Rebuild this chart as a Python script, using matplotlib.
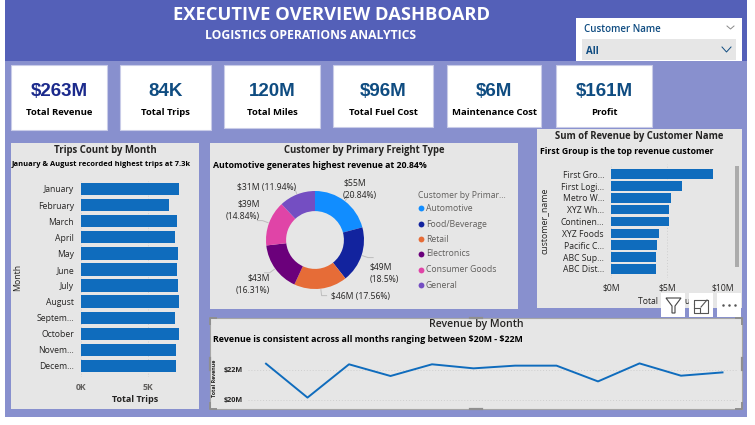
import numpy as np
import matplotlib
matplotlib.use("Agg")
import matplotlib.pyplot as plt
from matplotlib.patches import Rectangle, Polygon

plt.rcParams['font.family'] = ['Open Sans', 'DejaVu Sans']

W, H = 755, 425
DPI = 100

# KPI cards
kpi_values = ["$263M", "84K", "120M", "$96M", "$6M", "$161M"]
kpi_labels = ["Total Revenue", "Total Trips", "Total Miles", "Total Fuel Cost", "Maintenance Cost", "Profit"]

# Trips per month (thousands)
months = ["January", "February", "March", "April", "May", "June", "July", "August",
          "Septem...", "October", "Novem...", "Decem..."]
trips = [7.30, 6.58, 7.18, 7.00, 7.20, 7.13, 7.23, 7.28, 6.98, 7.33, 7.08, 7.05]

# Revenue per freight type
freight_types = ["Automotive", "Food/Beverage", "Retail", "Electronics", "Consumer Goods", "General"]
freight_share = [20.84, 18.5, 17.56, 16.31, 14.84, 11.94]
freight_labels = ["$55M\n(20.84%)", "$49M\n(18.5%)", "$46M (17.56%)", "$43M\n(16.31%)", "$39M\n(14.84%)", "$31M (11.94%)"]
freight_colors = ["#118DFF", "#12239E", "#E66C37", "#6B007B", "#E044A7", "#744EC2"]

# Revenue per customer ($M)
customers = ["First Gro...", "First Logi...", "Metro W...", "XYZ Wh...", "Continen...", "XYZ Foods",
             "Pacific C...", "ABC Sup...", "ABC Dist..."]
customer_rev = [9.1, 6.3, 5.35, 5.2, 5.15, 4.25, 4.1, 4.05, 4.0]

# Revenue per month ($M)
revenue = [22.42, 20.16, 22.38, 21.6, 22.38, 22.11, 22.29, 22.29, 21.24, 22.44, 21.62, 21.84]

HEADER = "#5460B8"
BODY = "#8890CE"
PANEL = "#E6E6E6"
BAR = "#0F6CBD"
INK = "#252423"
GREY = "#605E5C"
NAVY = "#0F4C81"

fig = plt.figure(figsize=(W / DPI, H / DPI), dpi=DPI, facecolor="white")


def px_axes(left, top, right, bottom, z=2):
    # axes placed with pixel edges, measured from the top left corner
    return fig.add_axes([left / W, 1 - bottom / H, (right - left) / W, (bottom - top) / H], zorder=z)


def overlay(z):
    ax = px_axes(0, 0, W, H, z)
    ax.set_xlim(0, W)
    ax.set_ylim(H, 0)
    ax.axis("off")
    ax.patch.set_alpha(0)
    return ax


def box(ax, x0, y0, x1, y1, color, **kw):
    ax.add_patch(Rectangle((x0, y0), x1 - x0, y1 - y0, facecolor=color, edgecolor=kw.pop("edge", "none"),
                           linewidth=kw.pop("lw", 0), **kw))


bg = overlay(0)
top = overlay(5)

# page background
box(bg, 5, 0, 747, 417, BODY)
box(bg, 5, 0, 747, 61, HEADER)

bg.text(332, 15, "EXECUTIVE OVERVIEW DASHBOARD", color="white", fontsize=13.2, fontweight="bold", ha="center", va="center")
bg.text(311, 35, "LOGISTICS OPERATIONS ANALYTICS", color="white", fontsize=8.7, fontweight="bold", ha="center", va="center")

# customer slicer
box(bg, 576, 18, 742, 61, "white")
box(bg, 582, 39, 736, 60, "#E6E6E6")
bg.text(584, 29, "Customer Name", color=NAVY, fontsize=7, fontweight="semibold", va="center")
bg.text(586, 51, "All", color=NAVY, fontsize=7, fontweight="bold", va="center")
bg.plot([727, 730.5, 734], [26, 29, 26], color="#8A8A8A", lw=0.7)
bg.plot([722, 726.5, 731], [47, 52, 47], color=NAVY, lw=0.7)

# KPI cards
card_edges = [(11, 107, 130), (120, 211, 130), (224, 320, 128), (333, 433, 127), (447, 541, 127), (556, 652, 127)]
for (x0, x1, y1), val, lab in zip(card_edges, kpi_values, kpi_labels):
    box(bg, x0, 65, x1, y1, "white", edge="#C9CCE8", lw=0.8)
    xc = (x0 + x1) / 2
    val_color = "#1B2A8C" if val == "$263M" else NAVY
    bg.text(xc, 91, val, color=val_color, fontsize=13.5, fontweight="bold", family="Liberation Sans", ha="center", va="center")
    bg.text(xc, 112, lab, color="black", fontsize=6.8, fontweight="bold", ha="center", va="center")

# chart panels
box(bg, 11, 143, 199, 409, PANEL)
box(bg, 210, 143, 518, 309, PANEL)
box(bg, 537, 129, 742, 308, PANEL)
box(bg, 210, 318, 742, 409, PANEL, edge="#A6A6A6", lw=0.8)


def style_bar_axes(ax):
    ax.patch.set_alpha(0)
    for s in ax.spines.values():
        s.set_visible(False)
    ax.tick_params(length=0)
    ax.grid(axis="x", color="#CFCFCF", linestyle=(0, (1, 2)), linewidth=0.7)
    ax.set_axisbelow(True)


# trips count by month
bg.text(105, 151, "Trips Count by Month", color=INK, fontsize=6.9, fontweight="bold", ha="center", va="center")
bg.text(101, 164, "January & August recorded highest trips at 7.3k", color="black", fontsize=5.4, fontweight="bold", ha="center", va="center")
ax1 = px_axes(81, 181, 181, 377)
style_bar_axes(ax1)
ax1.barh(range(len(months)), trips, height=0.77, color=BAR)
ax1.set_xlim(0, 100 / 13.42)
ax1.set_ylim(188 / 16.09, -8 / 16.09)
ax1.set_yticks(range(len(months)), months, fontsize=6.2, color=INK)
ax1.set_xticks([0, 5], ["0K", "5K"], fontsize=6.2, color=GREY, fontweight="bold")
ax1.tick_params(axis="y", pad=5)
ax1.tick_params(axis="x", pad=4)
bg.text(135, 400, "Total Trips", color=INK, fontsize=6.5, fontweight="bold", ha="center", va="center")
bg.text(18, 277, "Month", color=INK, fontsize=6.3, rotation=90, ha="center", va="center")

# revenue donut by freight type
bg.text(364, 151, "Customer by Primary Freight Type", color=INK, fontsize=6.85, fontweight="bold", ha="center", va="center")
bg.text(213, 166, "Automotive generates highest revenue at 20.84%", color="black", fontsize=6.3, fontweight="bold", va="center")
ax2 = px_axes(315 - 49, 240 - 49, 315 + 49, 240 + 49)
ax2.pie(freight_share, colors=freight_colors, startangle=90, counterclock=False, radius=1,
        wedgeprops=dict(width=0.41, linewidth=0))
ax2.set_xlim(-1, 1)
ax2.set_ylim(-1, 1)
ax2.patch.set_alpha(0)
ax2.axis("off")

# label spot and text alignment for each slice
label_spots = [(343, 189, "left"), (370, 273, "left"), (331, 296, "left"), (270, 284, "right"), (260, 210, "right"), (296, 187, "right")]
mids = 90 - (np.cumsum(freight_share) - np.array(freight_share) / 2) * 3.6
for lab, (lx, ly, ha), mid in zip(freight_labels, label_spots, mids):
    bg.text(lx, ly, lab, color=INK, fontsize=6.2, ha=ha, va="center", linespacing=1.5)
    rad = np.deg2rad(mid)
    sx, sy = 315 + 50 * np.cos(rad), 240 - 50 * np.sin(rad)
    ex, ey = 315 + 56 * np.cos(rad), 240 - 56 * np.sin(rad)
    side = 1 if np.cos(rad) > 0 else -1
    bg.plot([sx, ex, ex + side * 5], [sy, ey, ey], color="#BDBDBD", lw=0.7)

bg.text(418, 195, "Customer by Primar...", color=GREY, fontsize=6.2, va="center")
legend_rows = [208, 224, 239, 254, 270, 285]
for name, color, y in zip(freight_types, freight_colors, legend_rows):
    bg.plot(421, y, "o", color=color, ms=4.2, mew=0)
    bg.text(426, y, name, color=GREY, fontsize=6.2, va="center")

# revenue by customer
bg.text(639, 137, "Sum of Revenue by Customer Name", color=INK, fontsize=6.85, fontweight="bold", ha="center", va="center")
bg.text(540, 152, "First Group is the top revenue customer", color="black", fontsize=6.3, fontweight="bold", va="center")
ax3 = px_axes(611, 164, 723, 278)
style_bar_axes(ax3)
ax3.barh(range(len(customers)), customer_rev, height=0.8, color=BAR)
ax3.set_xlim(0, 10)
ax3.set_ylim(103.8 / 11.83, -10.2 / 11.83)
ax3.set_yticks(range(len(customers)), customers, fontsize=6.2, color=INK)
ax3.set_xticks([0, 5, 10], ["$0M", "$5M", "$10M"], fontsize=6.2, color=INK)
ax3.tick_params(axis="y", pad=5)
ax3.tick_params(axis="x", pad=4)
bg.text(544, 221, "customer_name", color=INK, fontsize=6.3, rotation=90, ha="center", va="center")
bg.text(667, 301, "Total Revenue", color=INK, fontsize=6.2, ha="center", va="center")
box(bg, 735, 166, 739, 267, "#ABABAB")

# revenue by month
bg.text(476, 325, "Revenue by Month", color=INK, fontsize=7.6, fontweight="semibold", ha="center", va="center")
bg.text(213, 340, "Revenue is consistent across all months ranging between \\$20M - \\$22M", color="black", fontsize=6.4, fontweight="bold", va="center")
ax4 = px_axes(248, 353, 737, 408)
ax4.patch.set_alpha(0)
for s in ax4.spines.values():
    s.set_visible(False)
x_months = np.arange(len(revenue))
ax4.plot(x_months, revenue, color=BAR, lw=1.4)
ax4.set_xlim(-18 / 41.5, 11 + 14.5 / 41.5)
ax4.set_ylim(20 - 8 / 15, 22 + 17 / 15)
ax4.set_xticks([])
ax4.set_yticks([20, 22], ["$20M", "$22M"], fontsize=5.2, fontweight="bold", color=INK)
ax4.tick_params(length=0, pad=4)
ax4.grid(axis="y", color="#CFCFCF", linestyle=(0, (1, 2)), linewidth=0.7)
bg.text(215, 378, "Total Revenue", color=INK, fontsize=3.9, fontweight="bold", rotation=90, ha="center", va="center")

# focus brackets and resize handles around the selected visual
fx0, fy0, fx1, fy1 = 210, 318, 742, 409
arm = 7
for cx, cy, dx, dy in [(fx0, fy0, 1, 1), (fx1, fy0, -1, 1), (fx0, fy1, 1, -1), (fx1, fy1, -1, -1)]:
    top.plot([cx + dx * arm, cx, cx], [cy, cy, cy + dy * arm], color="#8F8F8F", lw=1.4, solid_capstyle="butt")
mx, my = (fx0 + fx1) / 2, (fy0 + fy1) / 2
top.plot([mx - 6, mx + 6], [fy0, fy0], color="#8F8F8F", lw=1.6)
top.plot([mx - 6, mx + 6], [fy1, fy1], color="#8F8F8F", lw=1.6)
top.plot([fx0, fx0], [my - 6, my + 6], color="#8F8F8F", lw=1.6)
top.plot([fx1, fx1], [my - 6, my + 6], color="#8F8F8F", lw=1.6)

# visual header buttons
for x0 in (661, 689, 717):
    box(top, x0, 293, x0 + 24, 317, "white")
top.add_patch(Polygon([(666, 298), (681, 298), (675, 306), (675, 313), (672, 313), (672, 306)], closed=True,
                      facecolor="none", edgecolor="#444444", lw=0.8))
top.plot([694, 694, 700, 700, 694], [304, 313, 313, 308, 308], color="#555555", lw=0.8)
top.plot([694, 694, 708, 708, 700], [304, 300, 300, 313, 313], color="#555555", lw=0.8)
top.plot([701, 707], [307, 300], color="#555555", lw=0.8)
top.plot([723, 729, 735], [305, 305, 305], linestyle="none", marker="o", ms=1.8, color="#555555", mew=0)

fig.savefig("out.png", dpi=DPI, facecolor="white")
